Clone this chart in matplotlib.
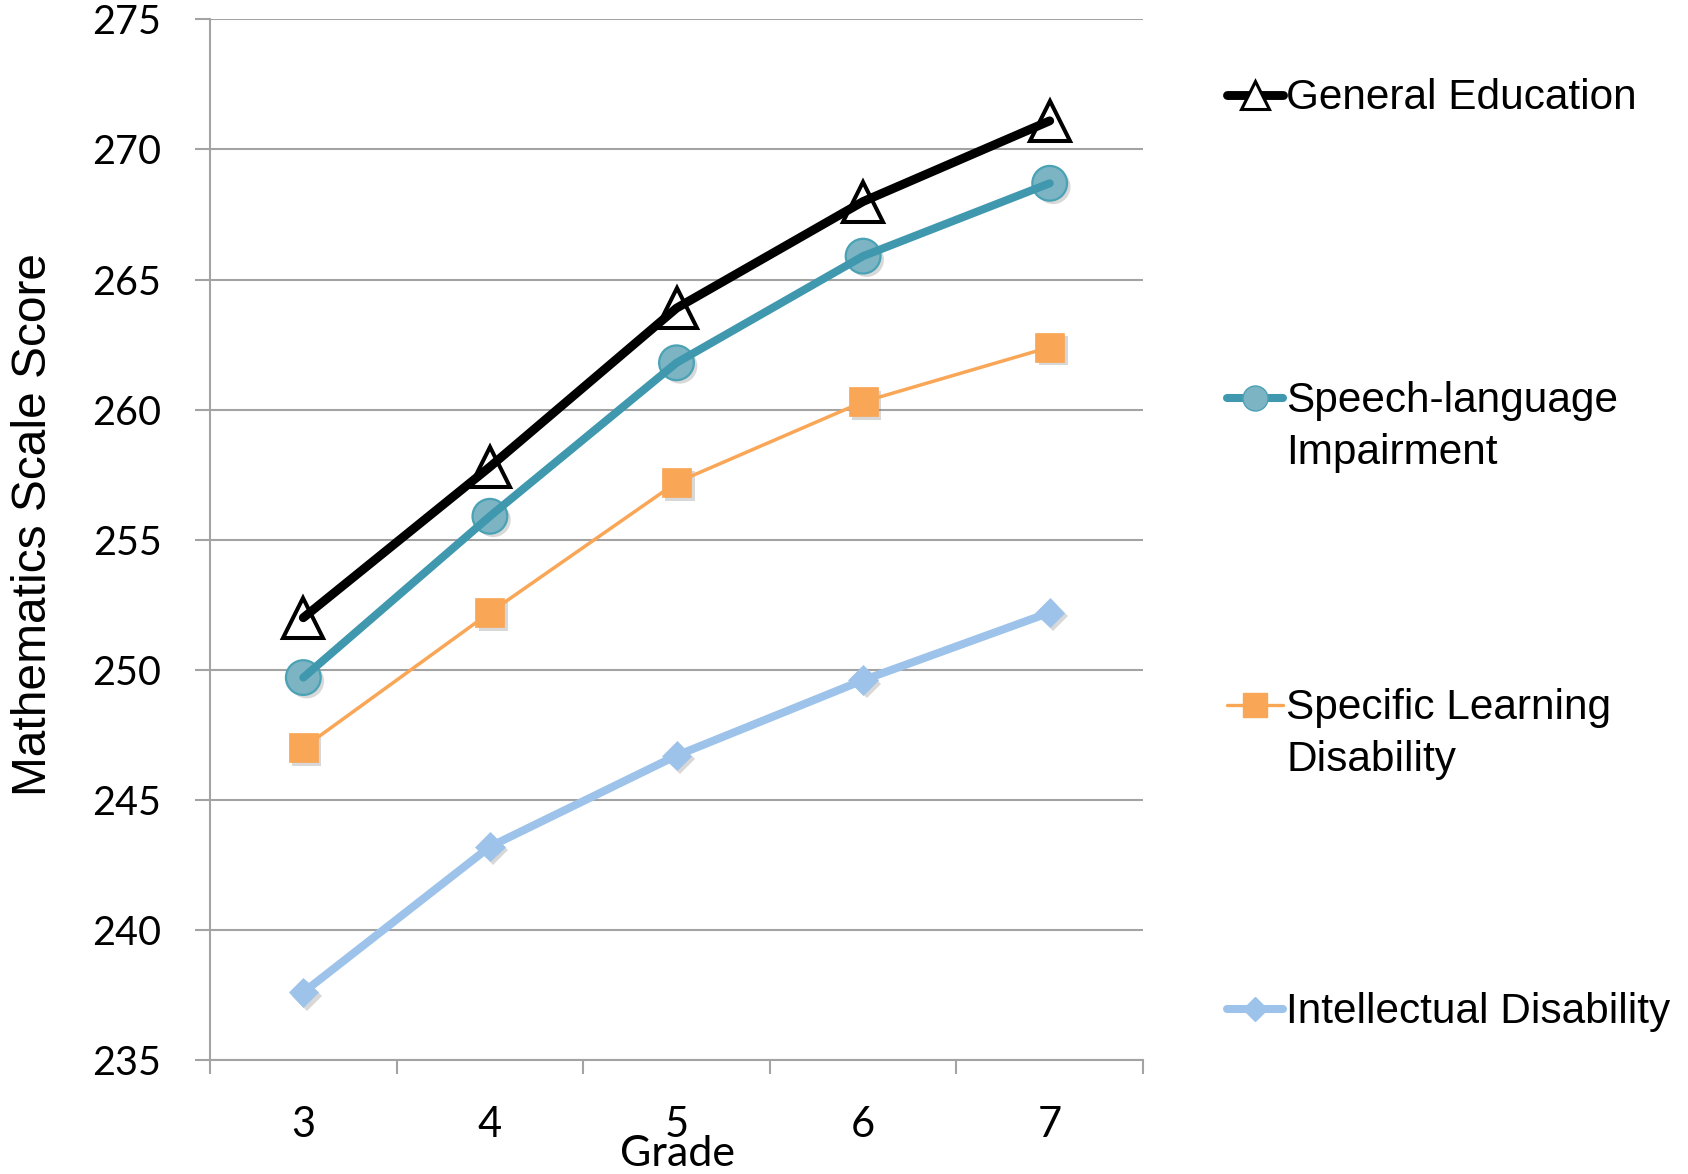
import matplotlib
matplotlib.use("Agg")
import matplotlib.pyplot as plt
import matplotlib.patheffects as pe
from matplotlib.lines import Line2D

# ---- data ----
grades = [3, 4, 5, 6, 7]
general_education = [252.0, 257.8, 263.9, 268.0, 271.1]
speech_language = [249.7, 255.9, 261.8, 265.9, 268.7]
specific_learning = [247.0, 252.2, 257.2, 260.3, 262.4]
intellectual = [237.6, 243.2, 246.7, 249.6, 252.2]
series_labels = ["General Education", "Speech-language\nImpairment",
                 "Specific Learning\nDisability", "Intellectual Disability"]
y_ticks = [235, 240, 245, 250, 255, 260, 265, 270, 275]

W, H = 1688, 1174
fig = plt.figure(figsize=(W / 100, H / 100), dpi=100)
ax = fig.add_axes([210 / W, 1 - 1060 / H, (1143 - 210) / W, (1060 - 19.4) / H])

grid_col = "#a3a3a3"
shadow = [pe.SimplePatchShadow(offset=(2.5, -2.5), shadow_rgbFace="#808080", alpha=0.3), pe.Normal()]

styles = [
    dict(values=general_education, color="black", lw=6.4, marker="^", ms=29,
         mfc="white", mec="black", mew=2.9, shadow=False),
    dict(values=speech_language, color="#3f98ad", lw=5.8, marker="o", ms=25,
         mfc="#7cb4c3", mec="#4aa2b5", mew=1.6, shadow=True),
    dict(values=specific_learning, color="#f9a656", lw=2.5, marker="s", ms=21,
         mfc="#f9a656", mec="#f9a656", mew=0.5, shadow=True),
    dict(values=intellectual, color="#9dc3ea", lw=5.8, marker="D", ms=15,
         mfc="#9dc3ea", mec="#9dc3ea", mew=0.5, shadow=True),
]

for st in styles:
    mk = ax.plot(grades, st["values"], linestyle="none", marker=st["marker"],
                 ms=st["ms"], mfc=st["mfc"], mec=st["mec"], mew=st["mew"],
                 zorder=3, clip_on=False)[0]
    if st["shadow"]:
        mk.set_path_effects(shadow)
    ax.plot(grades, st["values"], color=st["color"], lw=st["lw"],
            solid_capstyle="round", solid_joinstyle="round", zorder=4, clip_on=False)

# axes styling
ax.set_xlim(2.5, 7.5)
ax.set_ylim(235, 275)
ax.set_yticks(y_ticks)
ax.set_yticklabels([str(v) for v in y_ticks], fontfamily="Lato", fontsize=28.5)
ax.yaxis.grid(True, color=grid_col, lw=1.5)
ax.set_axisbelow(True)
ax.tick_params(axis="y", length=11, width=1.5, color=grid_col, pad=24)

ax.set_xticks([2.5, 3.5, 4.5, 5.5, 6.5, 7.5])
ax.set_xticklabels([])
ax.set_xticks(grades, minor=True)
ax.set_xticklabels([str(g) for g in grades], minor=True, fontfamily="Lato", fontsize=30)
ax.tick_params(axis="x", which="major", length=10, width=1.5, color=grid_col)
ax.tick_params(axis="x", which="minor", length=0, pad=33)

for s in ["top", "right"]:
    ax.spines[s].set_visible(False)
for s in ["left", "bottom"]:
    ax.spines[s].set_color(grid_col)
    ax.spines[s].set_linewidth(1.5)

fig.text(34 / W, 1 - 524 / H, "Mathematics Scale Score", rotation=90,
         ha="center", va="center", fontfamily="Liberation Sans", fontsize=34.5)
fig.text(677 / W, 1 - 1166 / H, "Grade", ha="center", va="baseline",
         fontfamily="Lato", fontsize=31)

# legend drawn at the right of the plot
legend_y = [95, 398, 705, 1009]
legend_ms = [20, 18, 17, 12]
for st, label, py, lms in zip(styles, series_labels, legend_y, legend_ms):
    yy = 1 - py / H
    fig.add_artist(Line2D([1227 / W, 1283 / W], [yy, yy], transform=fig.transFigure,
                          color=st["color"], lw=st["lw"] if st["lw"] > 3 else 2.4,
                          solid_capstyle="round"))
    fig.add_artist(Line2D([1255 / W], [yy], transform=fig.transFigure, linestyle="none",
                          marker=st["marker"], ms=lms, mfc=st["mfc"], mec=st["mec"],
                          mew=2.2 if st["marker"] == "^" else 1.0))
    for i, line in enumerate(label.split("\n")):
        fig.text(1286 / W, 1 - (py + 3 + i * 52) / H, line, ha="left", va="center",
                 fontfamily="Liberation Sans", fontsize=30.5)

fig.savefig("out.png", dpi=100, facecolor="white")
